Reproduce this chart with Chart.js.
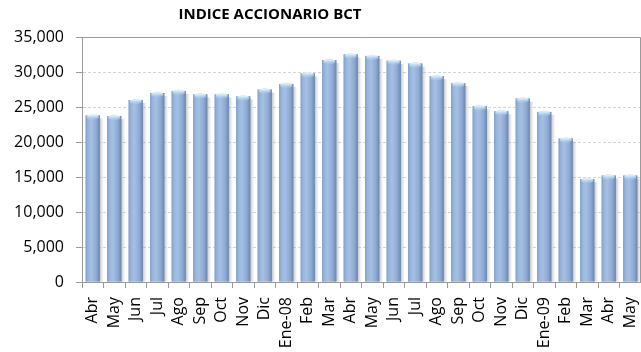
<!DOCTYPE html>
<html>
<head>
<meta charset="utf-8">
<script src="https://cdn.jsdelivr.net/npm/chart.js@4.4.1/dist/chart.umd.min.js"></script>
<style>
  html, body { margin: 0; padding: 0; background: #ffffff; }
  #wrap { width: 641px; height: 352px; position: relative; }
</style>
</head>
<body>
<div id="wrap"><canvas id="c" width="641" height="352"></canvas></div>
<script>
// Monthly closing values of the BCT stock index, Apr 2007 – May 2009
const months = ['Abr', 'May', 'Jun', 'Jul', 'Ago', 'Sep', 'Oct', 'Nov', 'Dic', 'Ene-08',
                'Feb', 'Mar', 'Abr', 'May', 'Jun', 'Jul', 'Ago', 'Sep', 'Oct', 'Nov',
                'Dic', 'Ene-09', 'Feb', 'Mar', 'Abr', 'May'];
const indexValues = [23800, 23700, 26000, 27000, 27300, 26800, 26800, 26500, 27500, 28300,
                     29800, 31700, 32500, 32300, 31600, 31200, 29400, 28400, 25100, 24400,
                     26200, 24300, 20500, 14700, 15200, 15200];
const yTicks = [0, 5000, 10000, 15000, 20000, 25000, 30000, 35000];

const FONT = 'Open Sans';
const FRAME = '#9a9a9a';

// Cylinder-like shading for each bar: soft shadow behind, highlight band and top cap on top
const barShading = {
  id: 'barShading',
  beforeDatasetsDraw(chart) {
    const ctx = chart.ctx;
    const meta = chart.getDatasetMeta(0);
    ctx.save();
    meta.data.forEach(el => {
      const right = el.x + el.width / 2;
      const g = ctx.createLinearGradient(right - 1, 0, right + 4, 0);
      g.addColorStop(0, 'rgba(120,120,120,0.55)');
      g.addColorStop(1, 'rgba(160,160,160,0)');
      ctx.fillStyle = g;
      ctx.fillRect(right - 1, el.y + 3, 5, el.base - el.y - 3);
    });
    ctx.restore();
  },
  afterDatasetsDraw(chart) {
    const ctx = chart.ctx;
    const meta = chart.getDatasetMeta(0);
    ctx.save();
    meta.data.forEach(el => {
      const left = el.x - el.width / 2, w = el.width;
      const g = ctx.createLinearGradient(left, 0, left + w, 0);
      g.addColorStop(0.0, '#7f9dc6');
      g.addColorStop(0.15, '#97b4db');
      g.addColorStop(0.4, '#a5c0e4');
      g.addColorStop(0.75, '#8eaad3');
      g.addColorStop(1.0, '#6b86ae');
      ctx.fillStyle = g;
      ctx.fillRect(left, el.y, w, el.base - el.y);
      // top cap
      const cg = ctx.createLinearGradient(0, el.y, 0, el.y + 5);
      cg.addColorStop(0, '#d9eefa');
      cg.addColorStop(1, 'rgba(170,205,235,0)');
      ctx.fillStyle = cg;
      ctx.beginPath();
      ctx.ellipse(el.x, el.y + 1.5, w / 2 - 1, 3, 0, 0, Math.PI * 2);
      ctx.fill();
    });
    ctx.restore();
  }
};

// Solid frame along the top and right of the plot; title centred over the left part
const frameAndTitle = {
  id: 'frameAndTitle',
  afterLayout(chart) {
    if (chart.titleBlock) chart.titleBlock.right = 540;
  },
  afterDraw(chart) {
    const ctx = chart.ctx;
    const a = chart.chartArea;
    const y = Math.round(chart.scales.y.getPixelForValue(35000)) + 0.5;
    const x = Math.round(a.right) - 0.5;
    ctx.save();
    ctx.strokeStyle = FRAME;
    ctx.lineWidth = 1;
    ctx.beginPath();
    ctx.moveTo(a.left, y);
    ctx.lineTo(x, y);
    ctx.lineTo(x, Math.round(a.bottom));
    ctx.stroke();
    ctx.restore();
  }
};

new Chart(document.getElementById('c'), {
  type: 'bar',
  data: {
    labels: months,
    datasets: [{
      label: 'Indice',
      data: indexValues,
      backgroundColor: '#95b3d7',
      borderWidth: 0,
      barPercentage: 0.66,
      categoryPercentage: 1.0
    }]
  },
  options: {
    responsive: false,
    animation: false,
    layout: { autoPadding: false, padding: { left: 0, right: 0, top: 0, bottom: 0 } },
    plugins: {
      legend: { display: false },
      tooltip: { enabled: false },
      title: {
        display: true,
        text: 'INDICE ACCIONARIO BCT',
        color: '#000000',
        font: { family: FONT, size: 15, weight: 'bold' },
        padding: { top: 6, bottom: 13 }
      }
    },
    scales: {
      x: {
        offset: true,
        grid: {
          display: true,
          drawOnChartArea: false,
          drawTicks: true,
          tickLength: 6,
          offset: true,
          color: FRAME
        },
        border: { display: true, color: FRAME },
        ticks: {
          color: '#000000',
          font: { family: FONT, size: 16 },
          maxRotation: 90,
          minRotation: 90,
          autoSkip: false,
          padding: 9
        },
        afterFit(scale) {
          scale.height = 70;
          scale.paddingLeft = 0;
          scale.paddingRight = 0;
        }
      },
      y: {
        min: 0,
        max: 35000,
        afterBuildTicks(scale) { scale.ticks = yTicks.map(v => ({ value: v })); },
        grid: {
          color: '#d4d4d4',
          tickColor: FRAME,
          tickLength: 6,
          drawTicks: true
        },
        border: { display: true, color: FRAME, dash: [3, 2] },
        ticks: {
          color: '#000000',
          font: { family: FONT, size: 16 },
          padding: 12,
          callback: v => v.toLocaleString('en-US')
        },
        afterFit(scale) { scale.width = 82; }
      }
    }
  },
  plugins: [barShading, frameAndTitle]
});
</script>
</body>
</html>
